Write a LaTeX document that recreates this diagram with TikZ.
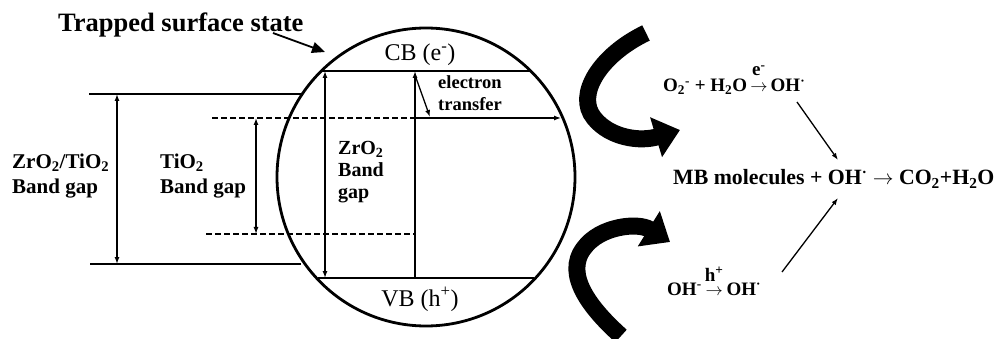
\documentclass[tikz,border=0pt]{standalone}
\usepackage{fontspec}
\setmainfont{Liberation Serif}
\usetikzlibrary{arrows.meta,positioning}
\newcommand{\rxnover}[2]{\begin{tabular}[b]{@{}c@{}}#2\\[#1]$\rightarrow$\end{tabular}}

\tikzset{
    band/.style={line width=1.6pt},
    dashband/.style={line width=1.4pt, dash pattern=on 6pt off 3pt},
    gaparrow/.style={line width=1.3pt, {Latex[length=7pt,width=5pt]}-{Latex[length=7pt,width=5pt]}},
    onearrow/.style={line width=1.3pt, -{Latex[length=7pt,width=5pt]}},
    fatarrow/.style={line width=17pt, -{Triangle[length=25pt,width=40pt]}},
    gaplabel/.style={font=\bfseries\fontsize{21}{25}\selectfont, align=left, inner sep=0pt, anchor=north west},
    bandname/.style={font=\fontsize{24}{28}\selectfont, inner sep=0pt, anchor=base},
    rxn/.style={font=\bfseries\fontsize{19}{22}\selectfont, inner sep=0pt, anchor=base west}
}

\begin{document}
\begin{tikzpicture}[x=1pt,y=-1pt]
    \useasboundingbox (0,0) rectangle (996,339);

    \node[draw, circle, line width=2.8pt, minimum size=298pt, inner sep=0pt] (particle) at (426,177) {};

    \coordinate (cbL) at (321,71);
    \coordinate (cbR) at (531,71);
    \coordinate (vbL) at (318,278);
    \coordinate (vbR) at (534,278);
    \coordinate (outT) at (89,94);
    \coordinate (outTR) at (302,94);
    \coordinate (outB) at (90,264);
    \coordinate (outBR) at (301,264);
    \coordinate (tiT) at (212,118);
    \coordinate (tiTM) at (415,118);
    \coordinate (tiTR) at (561,118);
    \coordinate (tiB) at (206,234);
    \coordinate (tiBM) at (415,234);

    \draw[band] (cbL) -- (cbR);
    \draw[band] (vbL) -- (vbR);
    \draw[band] (outT) -- (outTR);
    \draw[band] (outB) -- (outBR);
    \draw[dashband] (tiT) -- (tiTM);
    \draw[dashband] (tiB) -- (tiBM);
    \draw[onearrow] (tiTM) -- (tiTR);

    \draw[gaparrow] (117,94) -- (117,264);
    \draw[gaparrow] (256,118) -- (256,234);
    \draw[gaparrow] (325,71) -- (325,278);
    \draw[onearrow] (415,278) -- (415,71);
    \draw[onearrow] (415,75) -- (430,117);

    \node[font=\bfseries\fontsize{26.5}{30}\selectfont, inner sep=0pt, anchor=base west] (trap) at (58,32) {Trapped surface state};
    \coordinate (trapend) at (325,52);
    \draw[line width=1.8pt, -{Triangle[length=13pt,width=11pt]}] (273,33) -- (trapend);

    \node[bandname] (cb) at (420,61) {CB (e\textsuperscript{-})};
    \node[bandname] (vb) at (420,306) {VB (h\textsuperscript{+})};

    \node[gaplabel] (mixgap) at (12,154) {ZrO\textsubscript{2}/TiO\textsubscript{2}\\Band gap};
    \node[gaplabel] (tigap) at (160,154) {TiO\textsubscript{2}\\Band gap};
    \node[gaplabel, font=\bfseries\fontsize{20}{22}\selectfont] (zrgap) at (338,141) {ZrO\textsubscript{2}\\Band\\gap};
    \node[gaplabel, font=\bfseries\fontsize{18.5}{22}\selectfont] (transfer) at (438,75) {electron\\transfer};

    \draw[fatarrow] (646,33) .. controls (600,55) and (575,95) .. (594,118) .. controls (610,138) and (640,142) .. (680,130);
    \draw[fatarrow] (621,336) .. controls (592,310) and (563,275) .. (584,248) .. controls (600,226) and (638,222) .. (670,242);

    \node[rxn] (superox) at (663,92) {O\textsubscript{2}\textsuperscript{-} + H\textsubscript{2}O\,\rxnover{-6pt}{e\textsuperscript{-}}\,OH\textsuperscript{·}};
    \node[rxn, font=\bfseries\fontsize{21.8}{24}\selectfont] (mb) at (673,185) {MB molecules + OH\textsuperscript{·} $\rightarrow$ CO\textsubscript{2}+H\textsubscript{2}O};
    \node[rxn] (hydrox) at (667,295) {OH\textsuperscript{-}\,\rxnover{-8pt}{h\textsuperscript{+}}\,OH\textsuperscript{·}};

    \coordinate (upstart) at (797,102);
    \coordinate (upend) at (838,160);
    \coordinate (lowstart) at (782,272);
    \coordinate (lowend) at (838,198);
    \draw[onearrow] (upstart) -- (upend);
    \draw[onearrow] (lowstart) -- (lowend);
\end{tikzpicture}
\end{document}
